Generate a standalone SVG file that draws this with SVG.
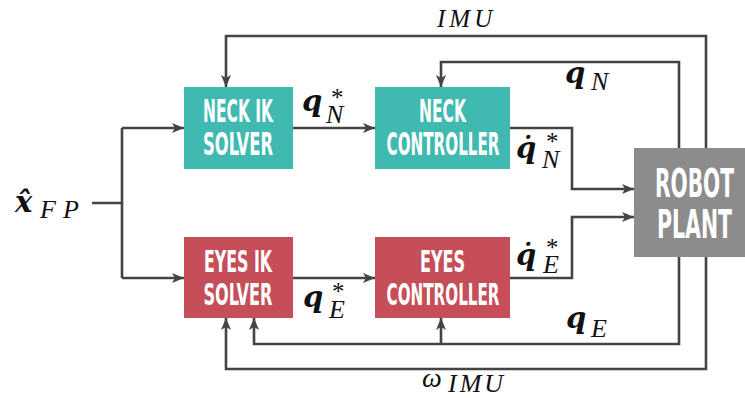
<svg xmlns="http://www.w3.org/2000/svg" width="745" height="398" viewBox="0 0 745 398">
<style>
.teal{fill:#40B9B0}
.red{fill:#C54E59}
.gray{fill:#8C8C8C}
.lbl{font-family:"DejaVu Sans Condensed","DejaVu Sans",sans-serif;font-weight:bold;font-stretch:condensed;fill:#fff;text-anchor:middle}
.c{fill:none;stroke:#444;stroke-width:2.6}
.m{font-family:"Liberation Serif",serif;fill:#111}
.b{font-family:"DejaVu Serif",serif;font-weight:bold;font-style:italic;font-size:29px}
.s{font-style:italic;font-size:26px}
.st{font-size:25px}
</style>
<defs>
<marker id="ah" viewBox="0 0 12 10" refX="12" refY="5" markerWidth="12" markerHeight="10" markerUnits="userSpaceOnUse" orient="auto">
<path d="M0,0 L12,5 L0,10 L3,5 z" fill="#444"/>
</marker>
</defs>
<rect width="745" height="398" fill="#fff"/>
<g id="connectors">
<path class="c" d="M92,203 H122 M122,128 V278"/>
<path class="c" d="M122,128 H184" marker-end="url(#ah)"/>
<path class="c" d="M122,278 H184" marker-end="url(#ah)"/>
<path class="c" d="M293,128 H375" marker-end="url(#ah)"/>
<path class="c" d="M293,278 H375" marker-end="url(#ah)"/>
<path class="c" d="M510,128 H572 V189 H634" marker-end="url(#ah)"/>
<path class="c" d="M510,278 H572 V217 H634" marker-end="url(#ah)"/>
<path class="c" d="M706,148 V36 H226 V87" marker-end="url(#ah)"/>
<path class="c" d="M679,148 V62 H441 V87" marker-end="url(#ah)"/>
<path class="c" d="M679,257 V344 H254 V318" marker-end="url(#ah)"/>
<path class="c" d="M441,344 V318" marker-end="url(#ah)"/>
<path class="c" d="M706,257 V369 H226 V318" marker-end="url(#ah)"/>
</g>
<g id="neck-ik">
<rect class="teal" x="184" y="87" width="109" height="82"/>
<text class="lbl" font-size="32"><tspan x="238" y="122" textLength="70" lengthAdjust="spacingAndGlyphs">NECK IK</tspan><tspan x="238" y="155" textLength="70" lengthAdjust="spacingAndGlyphs">SOLVER</tspan></text>
</g>
<g id="neck-controller">
<rect class="teal" x="375" y="87" width="135" height="82"/>
<text class="lbl" font-size="32"><tspan x="442.5" y="122" textLength="47" lengthAdjust="spacingAndGlyphs">NECK</tspan><tspan x="443" y="155" textLength="113" lengthAdjust="spacingAndGlyphs">CONTROLLER</tspan></text>
</g>
<g id="eyes-ik">
<rect class="red" x="184" y="237" width="109" height="81"/>
<text class="lbl" font-size="31"><tspan x="238" y="272" textLength="68" lengthAdjust="spacingAndGlyphs">EYES IK</tspan><tspan x="238" y="305" textLength="69" lengthAdjust="spacingAndGlyphs">SOLVER</tspan></text>
</g>
<g id="eyes-controller">
<rect class="red" x="375" y="237" width="135" height="81"/>
<text class="lbl" font-size="31"><tspan x="442.5" y="272" textLength="45" lengthAdjust="spacingAndGlyphs">EYES</tspan><tspan x="443" y="305" textLength="113" lengthAdjust="spacingAndGlyphs">CONTROLLER</tspan></text>
</g>
<g id="robot-plant">
<rect class="gray" x="634" y="148" width="111" height="109"/>
<text class="lbl" font-size="39"><tspan x="694.5" y="197" textLength="79" lengthAdjust="spacingAndGlyphs">ROBOT</tspan><tspan x="694.5" y="238" textLength="75" lengthAdjust="spacingAndGlyphs">PLANT</tspan></text>
</g>
<g id="labels">
<text class="m"><tspan class="b" x="15" y="212">x̂</tspan><tspan class="s" x="40" y="218" letter-spacing="7">FP</tspan></text>
<text class="m"><tspan class="b" x="302" y="111">q</tspan><tspan class="st" x="331" y="106">*</tspan><tspan class="s" x="326" y="123">N</tspan></text>
<text class="m"><tspan class="b" x="565" y="83">q</tspan><tspan class="s" x="591" y="90">N</tspan></text>
<text class="m"><tspan class="b" x="516" y="158">q̇</tspan><tspan class="st" x="546" y="150">*</tspan><tspan class="s" x="542" y="168">N</tspan></text>
<text class="m"><tspan class="b" x="516" y="265">q̇</tspan><tspan class="st" x="546" y="256">*</tspan><tspan class="s" x="543" y="273">E</tspan></text>
<text class="m"><tspan class="b" x="303" y="307">q</tspan><tspan class="st" x="332" y="300">*</tspan><tspan class="s" x="329" y="318">E</tspan></text>
<text class="m"><tspan class="b" x="566" y="328">q</tspan><tspan class="s" x="591" y="337">E</tspan></text>
<text class="m" font-style="italic" font-size="25" x="437" y="27" letter-spacing="4">IMU</text>
<text class="m"><tspan font-style="italic" font-size="28" x="422" y="387">ω</tspan><tspan class="s" font-size="21" x="448" y="392" letter-spacing="3">IMU</tspan></text>
</g>
</svg>
